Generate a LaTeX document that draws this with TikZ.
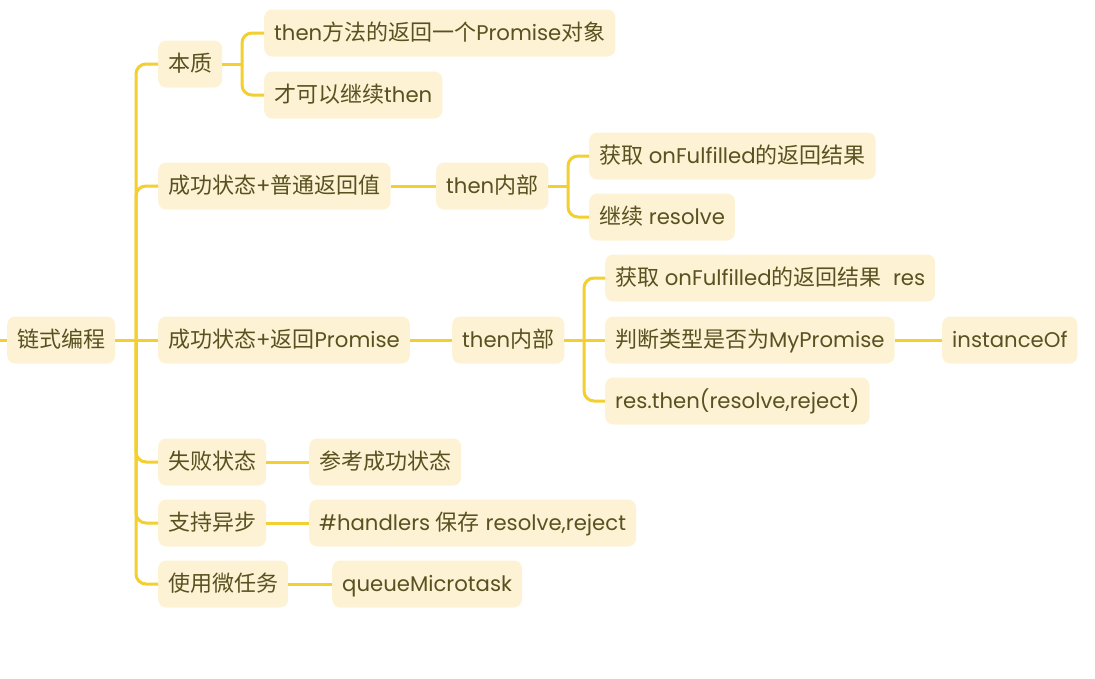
\documentclass[tikz,border=0pt]{standalone}
\usepackage{fontspec}
\setmainfont[Scale=0.965]{Poppins}
\newfontfamily\cjkfont{Noto Sans CJK SC}
\newcommand\zh[1]{{\cjkfont #1}}
\definecolor{mapline}{HTML}{F3CF30}
\definecolor{mapfill}{HTML}{FDF3D4}
\definecolor{maptext}{HTML}{5A5020}

\begin{document}
\begin{tikzpicture}[
    x=1pt, y=-1pt,
    topic/.style={
        anchor=west,
        fill=mapfill,
        text=maptext,
        rounded corners=8pt,
        inner xsep=10pt,
        inner ysep=0pt,
        minimum height=47pt,
        text height=18pt,
        text depth=3pt,
        font=\fontsize{22}{26}\selectfont
    },
    link/.style={draw=mapline, line width=3pt, rounded corners=10pt}
]
    \useasboundingbox (0,0) rectangle (1095,678);
    \fill[white] (0,0) rectangle (1095,678);

    % Root
    \node[topic] (root) at (7,340) {\zh{链式编程}};

    % First level
    \node[topic] (essence) at (158,64) {\zh{本质}};
    \node[topic] (plain) at (158,186) {\zh{成功状态}+\zh{普通返回值}};
    \node[topic] (promise) at (158,340) {\zh{成功状态}+\zh{返回}Promise};
    \node[topic] (reject) at (158,462) {\zh{失败状态}};
    \node[topic] (async) at (158,523) {\zh{支持异步}};
    \node[topic] (micro) at (158,584) {\zh{使用微任务}};

    % Second level
    \node[topic] (ret) at (264,33) {then\zh{方法的返回一个}Promise\zh{对象}};
    \node[topic] (chain) at (264,95) {\zh{才可以继续}then};
    \node[topic] (innerA) at (436,186) {then\zh{内部}};
    \node[topic] (innerB) at (452,340) {then\zh{内部}};
    \node[topic] (ref) at (309,462) {\zh{参考成功状态}};
    \node[topic] (handlers) at (309,523) {\#handlers \zh{保存} resolve,reject};
    \node[topic] (queue) at (332,584) {queueMicrotask};

    % Third level
    \node[topic] (getA) at (589,156) {\zh{获取} onFulfilled\zh{的返回结果}};
    \node[topic] (cont) at (589,217) {\zh{继续} resolve};
    \node[topic] (getB) at (605,278) {\zh{获取} onFulfilled\zh{的返回结果}\ \ res};
    \node[topic] (check) at (605,340) {\zh{判断类型是否为}MyPromise};
    \node[topic] (call) at (605,401) {res.then(resolve,reject)};
    \node[topic] (inst) at (942,340) {instanceOf};

    % Spine
    \coordinate (edge) at (0,340);
    \coordinate (spine) at (136,340);
    \draw[link] (edge) -- (root.west);
    \draw[link] (root.east) -- (spine);
    \draw[link] (spine) -- (promise.west);
    \foreach \n in {essence,plain,reject,async,micro}
        \draw[link] (spine) |- (\n.west);

    % Brackets
    \coordinate (forkA) at (242,64);
    \draw[link] (essence.east) -- (forkA);
    \foreach \n in {ret,chain}
        \draw[link] (forkA) |- (\n.west);

    \coordinate (forkB) at (568,186);
    \draw[link] (innerA.east) -- (forkB);
    \foreach \n in {getA,cont}
        \draw[link] (forkB) |- (\n.west);

    \coordinate (forkC) at (584,340);
    \draw[link] (innerB.east) -- (check.west);
    \foreach \n in {getB,call}
        \draw[link] (forkC) |- (\n.west);

    % Straight links
    \draw[link] (plain.east) -- (innerA.west);
    \draw[link] (promise.east) -- (innerB.west);
    \draw[link] (check.east) -- (inst.west);
    \draw[link] (reject.east) -- (ref.west);
    \draw[link] (async.east) -- (handlers.west);
    \draw[link] (micro.east) -- (queue.west);
\end{tikzpicture}
\end{document}
